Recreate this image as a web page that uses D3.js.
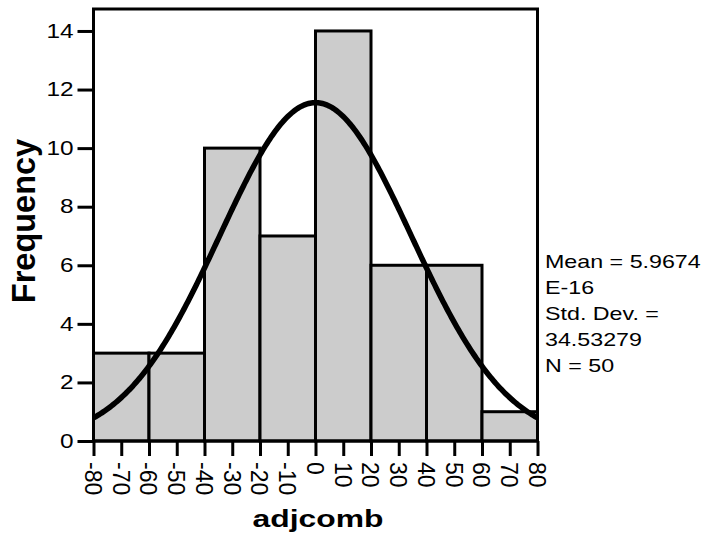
<!DOCTYPE html>
<html>
<head>
<meta charset="utf-8">
<script src="https://cdnjs.cloudflare.com/ajax/libs/d3/7.8.5/d3.min.js"></script>
<style>
  body { margin: 0; background: #fff; }
  text { font-family: Arial, "Liberation Sans", sans-serif; fill: #000; }
</style>
</head>
<body>
<svg id="chart" width="704" height="538"></svg>
<script>
// histogram bins (lower edge) and counts
var binStarts = [-80, -60, -40, -20, 0, 20, 40, 60];
var binWidth = 20;
var counts = [3, 3, 10, 7, 14, 6, 6, 1];
var xTicks = [-80, -70, -60, -50, -40, -30, -20, -10, 0, 10, 20, 30, 40, 50, 60, 70, 80];
var yTicks = [0, 2, 4, 6, 8, 10, 12, 14];
var statLines = ["Mean = 5.9674", "E-16", "Std. Dev. =", "34.53279", "N = 50"];
var mean = 5.9674e-16, sd = 34.53279, n = 50;

var svg = d3.select("#chart");
var plotL = 93.5, plotR = 537.5, plotT = 9, plotB = 441;
var wide = 1.25; // horizontal text in the original is drawn wider than normal

var x = d3.scaleLinear().domain([-80, 80]).range([plotL, plotR]);
var y = d3.scaleLinear().domain([0, 14.75]).range([plotB, plotT]);

// bars
svg.append("g").selectAll("rect")
    .data(binStarts)
    .enter().append("rect")
    .attr("x", function (d) { return x(d); })
    .attr("width", function (d) { return x(d + binWidth) - x(d); })
    .attr("y", function (d, i) { return y(counts[i]); })
    .attr("height", function (d, i) { return plotB - y(counts[i]); })
    .attr("fill", "#cccccc")
    .attr("stroke", "#000")
    .attr("stroke-width", 3);

// fitted normal curve
var curvePts = d3.range(-80, 80.01, 0.5).map(function (v) {
    var z = (v - mean) / sd;
    return [v, n * binWidth / (sd * Math.sqrt(2 * Math.PI)) * Math.exp(-0.5 * z * z)];
});
svg.append("clipPath").attr("id", "plotclip")
    .append("rect").attr("x", plotL).attr("y", plotT)
    .attr("width", plotR - plotL).attr("height", plotB - plotT);
svg.append("path")
    .datum(curvePts)
    .attr("clip-path", "url(#plotclip)")
    .attr("fill", "none")
    .attr("stroke", "#000")
    .attr("stroke-width", 5.5)
    .attr("d", d3.line()
        .x(function (d) { return x(d[0]); })
        .y(function (d) { return y(d[1]); }));

// frame
svg.append("rect")
    .attr("x", plotL).attr("y", plotT)
    .attr("width", plotR - plotL).attr("height", plotB - plotT)
    .attr("fill", "none").attr("stroke", "#000").attr("stroke-width", 3);

// y axis
var yAxis = svg.append("g")
    .attr("transform", "translate(" + plotL + ",0)")
    .call(d3.axisLeft(y).tickValues(yTicks).tickSize(16).tickPadding(4).tickFormat(String));
yAxis.select(".domain").remove();
yAxis.selectAll("line").attr("stroke-width", 3);
yAxis.selectAll("text")
    .attr("font-size", 19.5).attr("font-family", null)
    .attr("x", 0)
    .attr("transform", "translate(-20,0) scale(" + wide + ",1)");

// x axis
var xAxis = svg.append("g")
    .attr("transform", "translate(0," + plotB + ")")
    .call(d3.axisBottom(x).tickValues(xTicks).tickSize(15).tickFormat(String));
xAxis.select(".domain").remove();
xAxis.selectAll("line").attr("stroke-width", 3);
xAxis.selectAll("text")
    .attr("font-size", 23).attr("font-family", null)
    .attr("transform", "rotate(90)")
    .attr("x", 21).attr("y", 1).attr("dy", "0.35em")
    .attr("text-anchor", "start");

// axis titles
svg.append("text")
    .attr("transform", "translate(318,527) scale(1.3,1)")
    .attr("text-anchor", "middle")
    .attr("font-size", 24.5).attr("font-weight", "bold")
    .text("adjcomb");
svg.append("text")
    .attr("transform", "translate(35,221) rotate(-90)")
    .attr("text-anchor", "middle")
    .attr("font-size", 32.5).attr("font-weight", "bold")
    .text("Frequency");

// stats block
svg.append("g").selectAll("text")
    .data(statLines)
    .enter().append("text")
    .attr("transform", function (d, i) {
        return "translate(545," + (268 + i * 26) + ") scale(" + wide + ",1)";
    })
    .attr("font-size", 18.6)
    .text(function (d) { return d; });
</script>
</body>
</html>
